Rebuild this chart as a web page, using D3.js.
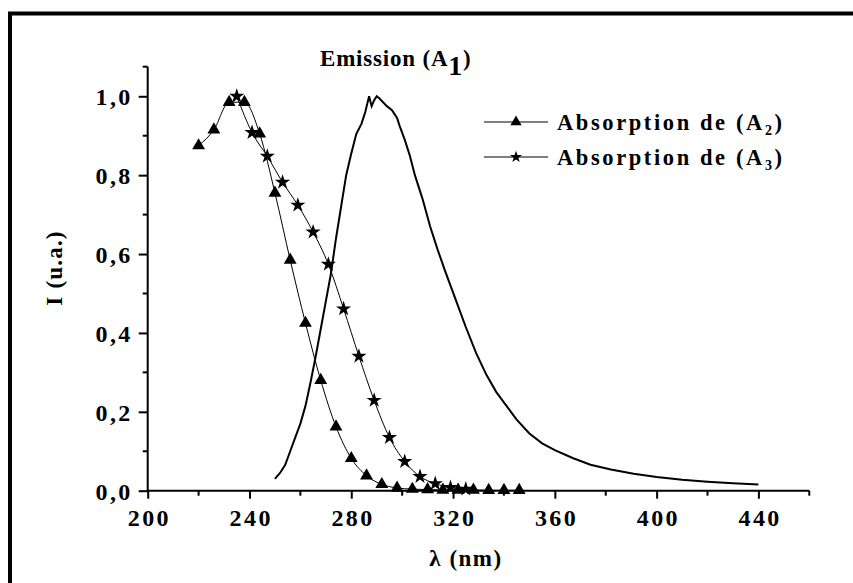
<!DOCTYPE html>
<html><head><meta charset="utf-8">
<script src="https://cdn.jsdelivr.net/npm/d3@7"></script>
<style>body{margin:0;background:#fff}svg{display:block}text{font-family:"Liberation Serif","Times New Roman",serif;font-weight:bold;fill:#000}</style>
</head><body><svg id="c" width="853" height="583"></svg>
<script>
// Absorption (A2) - triangles
const a2X = [220,226,232,238,244,250,256,262,268,274,280,286,292,298,304,310,316,322,328,334,340,346];
const a2Y = [0.875,0.915,0.985,0.985,0.905,0.755,0.585,0.425,0.28,0.162,0.082,0.038,0.016,0.007,0.004,0.003,0.002,0.002,0.002,0.001,0.001,0.001];
// Absorption (A3) - stars
const a3X = [235,241,247,253,259,265,271,277,283,289,295,301,307,313,319,325];
const a3Y = [1.0,0.908,0.848,0.782,0.724,0.656,0.574,0.461,0.341,0.229,0.135,0.074,0.036,0.018,0.008,0.004];
// Emission (A1)
const emX = [250,252,254,256,258,260,262,264,266,268,270,272,274,276,278,280,282,284,285.5,287,288,289,290,291,292.5,294,296,298,299,301,303,305,308,311,314,317,321,325,329,333,337,341,345,350,355,360,367,374,382,391,400,410,420,430,440];
const emY = [0.03,0.045,0.065,0.10,0.135,0.17,0.215,0.275,0.34,0.41,0.48,0.55,0.64,0.72,0.80,0.855,0.905,0.93,0.96,1.0,0.975,0.99,1.0,0.995,0.985,0.975,0.965,0.945,0.925,0.89,0.85,0.80,0.74,0.67,0.61,0.555,0.485,0.415,0.35,0.295,0.25,0.215,0.18,0.145,0.12,0.103,0.083,0.066,0.054,0.043,0.035,0.028,0.023,0.019,0.016];
const xMajor = [200,240,280,320,360,400,440];
const xMinor = [220,260,300,340,380,420,460];
const yMajor = [0,0.2,0.4,0.6,0.8,1.0];
const yMinor = [0.1,0.3,0.5,0.7,0.9,1.075];
const fmt = d => d.toFixed(1).replace('.', ',');

const svg = d3.select('#c');
svg.append('rect').attr('x',10).attr('y',13.5).attr('width',900).attr('height',700)
  .attr('fill','none').attr('stroke','#000').attr('stroke-width',4);

const x = d3.scaleLinear().domain([200,460]).range([147.7,809.3]);
const y = d3.scaleLinear().domain([0,1.075]).range([490.7,66.7]);

// X axis
const gx = svg.append('g').attr('transform',`translate(0,${y(0)})`);
gx.call(d3.axisBottom(x).tickValues(xMajor).tickSize(8).tickFormat(d=>d));
gx.selectAll('.tick text').attr('font-size',24).attr('dy','1.0em').attr('dx',1.2)
  .style('letter-spacing','2.4px').style('font-family','Liberation Serif').style('font-weight','bold');
gx.selectAll('.minor').data(xMinor).enter().append('line').attr('x1',d=>x(d)).attr('x2',d=>x(d)).attr('y1',0).attr('y2',5).attr('stroke','#000').attr('stroke-width',2);
gx.select('.domain').attr('d',`M${x(200)},0H${x(460)}`).attr('stroke-width',2);
gx.selectAll('.tick line').attr('stroke-width',2);

// Y axis
const gy = svg.append('g').attr('transform',`translate(${x(200)},0)`);
gy.call(d3.axisLeft(y).tickValues(yMajor).tickSize(9).tickPadding(6).tickFormat(fmt));
gy.selectAll('.tick text').attr('font-size',24).attr('dy','0.36em')
  .style('letter-spacing','2.4px').style('font-family','Liberation Serif').style('font-weight','bold');
gy.selectAll('.minor').data(yMinor).enter().append('line').attr('y1',d=>y(d)).attr('y2',d=>y(d)).attr('x1',0).attr('x2',-5).attr('stroke','#000').attr('stroke-width',2);
gy.select('.domain').attr('d',`M0,${y(0)}V${y(1.075)}`).attr('stroke-width',2);
gy.selectAll('.tick line').attr('stroke-width',2);

// Lines
const line = d3.line().x(d=>x(d[0])).y(d=>y(d[1]));
const em = emX.map((v,i)=>[v,emY[i]]);
const a2 = a2X.map((v,i)=>[v,a2Y[i]]);
const a3 = a3X.map((v,i)=>[v,a3Y[i]]);
svg.append('path').datum(em).attr('d',line).attr('fill','none').attr('stroke','#000').attr('stroke-width',2);
svg.append('path').datum(a2).attr('d',line.curve(d3.curveMonotoneX)).attr('fill','none').attr('stroke','#000').attr('stroke-width',1);
svg.append('path').datum(a3).attr('d',line.curve(d3.curveMonotoneX)).attr('fill','none').attr('stroke','#000').attr('stroke-width',1);

const tri = d3.symbol().type(d3.symbolTriangle).size(72);
const star = d3.symbol().type(d3.symbolStar).size(72);
svg.append('g').selectAll('path').data(a2).enter().append('path').attr('d',tri)
  .attr('transform',d=>`translate(${x(d[0])},${y(d[1])})`).attr('fill','#000');
svg.append('g').selectAll('path').data(a3).enter().append('path').attr('d',star)
  .attr('transform',d=>`translate(${x(d[0])},${y(d[1])})`).attr('fill','#000');

// Title
const t = svg.append('text').attr('x',320).attr('y',66).attr('font-size',23).style('letter-spacing','0.8px');
t.append('tspan').text('Emission (A');
t.append('tspan').attr('font-size',28).attr('dy',9).text('1');
t.append('tspan').attr('dy',-9).text(')');

// Legend
const leg = [{yy:122, sub:'2'},{yy:157, sub:'3'}];
leg.forEach((l,i)=>{
  const g = svg.append('g');
  g.append('line').attr('x1',484).attr('x2',548).attr('y1',l.yy).attr('y2',l.yy).attr('stroke','#000').attr('stroke-width',1);
  g.append('path').attr('d', i===0 ? d3.symbol().type(d3.symbolTriangle).size(55)() : d3.symbol().type(d3.symbolStar).size(45)())
    .attr('transform',`translate(516,${l.yy})`).attr('fill','#000');
  const tx = g.append('text').attr('x',557).attr('y',l.yy+8).attr('font-size',22.5).style('letter-spacing','2.6px');
  tx.append('tspan').text('Absorption de (A');
  tx.append('tspan').attr('font-size',14).attr('dy',5).text(l.sub);
  tx.append('tspan').attr('dy',-5).text(')');
});

// Axis titles
svg.append('text').attr('x',466).attr('y',566).attr('text-anchor','middle').attr('font-size',23).style('letter-spacing','1.5px').text('λ (nm)');
svg.append('text').attr('transform','translate(62,268) rotate(-90)').attr('text-anchor','middle').attr('font-size',23).style('letter-spacing','1.2px').text('I (u.a.)');
</script></body></html>
